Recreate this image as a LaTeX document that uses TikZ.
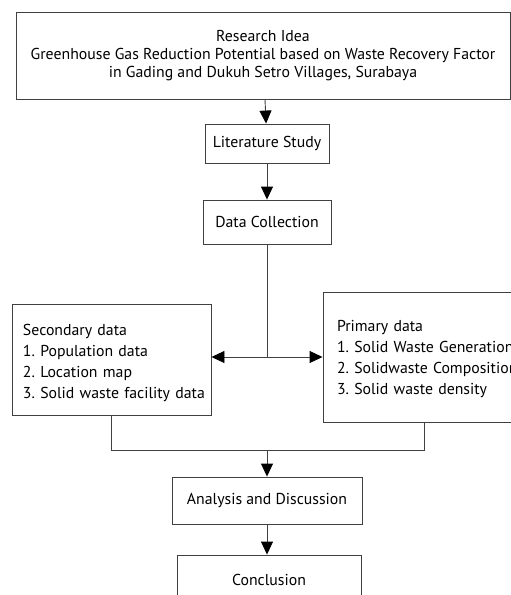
\documentclass[tikz,border=0pt]{standalone}
\usepackage{fontspec}
\setmainfont{PT Sans}
\usepackage{tikz}
\usetikzlibrary{arrows.meta}
\frenchspacing

\begin{document}
\begin{tikzpicture}[x=1pt,y=-1pt,
    box/.style={draw=black!75,line width=0.9pt,inner sep=0pt,font=\fontsize{15.8}{18}\selectfont},
    list/.style={box,align=left,font=\fontsize{15.8}{21}\selectfont},
    arr/.style={-{Triangle[width=12pt,length=13pt,color=black]}},
    line/.style={draw=black!75,line width=0.9pt}]
    \useasboundingbox (0,0) rectangle (511,595);
    % main steps
    \node[box,minimum width=494,minimum height=87,align=center] (idea) at (263,55.5)
        {Research Idea\\Greenhouse Gas Reduction Potential based on Waste Recovery Factor\\in Gading and Dukuh Setro Villages, Surabaya};
    \node[box,minimum width=124,minimum height=39] (lit) at (267,143.5) {Literature Study};
    \node[box,minimum width=128,minimum height=44] (data) at (267,222) {Data Collection};
    % data sources
    \node[list,minimum height=111,text width=177,inner xsep=11] (sec) at (111.5,359.5)
        {\mbox{\rule{0pt}{19pt}Secondary data}\\\mbox{1. Population data}\\\mbox{2. Location map}\\\mbox{3. Solid waste facility data}};
    \node[list,minimum height=130,text width=174,inner xsep=14] (prim) at (424,357)
        {\mbox{\rule{0pt}{15pt}Primary data}\\\mbox{1. Solid Waste Generation}\\\mbox{2. Solidwaste Composition}\\\mbox{3. Solid waste density}};
    \node[box,minimum width=190,minimum height=47] (ana) at (267,500.5) {Analysis and Discussion};
    \node[box,minimum width=184,minimum height=50] (concl) at (269,580) {Conclusion};
    \coordinate (split) at (data.south |- prim.west);
    \coordinate (merge) at (267,450);
    \draw[line,arr] (idea) -- (lit);
    \draw[line,arr] (lit) -- (data);
    \draw[line] (data) -- (split);
    \draw[line,arr] (split) -- (split -| sec.east);
    \draw[line,arr] (split) -- (prim.west);
    \draw[line] (sec.south) -- (sec.south |- merge) -- (prim.south |- merge) -- (prim.south);
    \draw[line,arr] (ana.north |- merge) -- (ana);
    \draw[line,arr] (ana) -- (concl.north -| ana.south);
\end{tikzpicture}
\end{document}
